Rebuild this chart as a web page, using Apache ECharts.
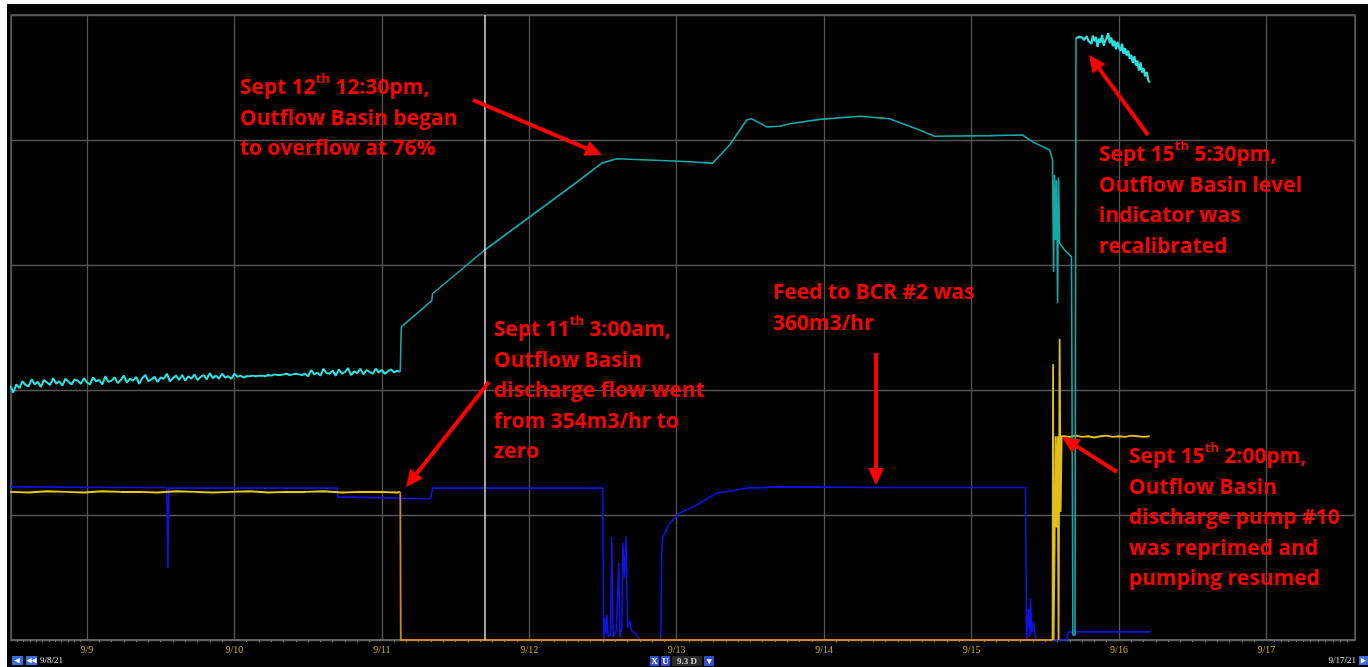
<!DOCTYPE html>
<html><head><meta charset="utf-8">
<script src="https://cdn.jsdelivr.net/npm/echarts@6/dist/echarts.min.js"></script>
<style>
html,body{margin:0;padding:0;background:#fff;width:1368px;height:667px;overflow:hidden}
#c{position:absolute;left:7px;top:4px;width:1361px;height:663px;background:#000}
</style></head><body><div id="c"></div>
<script>
// ---------- axis range ----------
const axisStart = '2021-09-08 11:38';
const axisEnd = '2021-09-17 14:25';
const cursorTime = '2021-09-11 16:45';

// ---------- Outflow Basin level (cyan) ----------
const levelNoisyStart = '2021-09-08 11:30';
const levelNoisyStepMin = 30;
const levelNoisy = [
 40.7, 39.6, 40.9, 40.3, 41.4, 40.8, 40.6, 41.7, 40.9, 41.3, 40.5, 41.6,
 41.2, 40.8, 41.9, 41.0, 41.4, 40.7, 41.8, 41.3, 40.9, 41.7, 41.5, 41.0,
 41.9, 41.2, 40.9, 42.0, 41.4, 41.6, 40.9, 42.2, 41.3, 41.5, 42.0, 41.1,
 41.6, 42.3, 41.2, 41.8, 41.5, 42.1, 41.0, 41.9, 42.4, 41.4, 41.7, 42.1,
 41.3, 42.0, 41.8, 42.6, 41.4, 41.9, 42.3, 41.6, 42.4, 41.5, 42.2, 41.8,
 42.5, 41.6, 42.1, 42.4, 41.7, 42.7, 41.9, 42.3, 41.8, 42.6, 42.0, 42.2,
 41.8, 42.6, 42.1, 42.3, 42.0, 42.2, 42.2, 42.3, 42.2, 42.3, 42.3, 42.2,
 42.4, 42.3, 42.5, 42.4, 42.4, 42.5, 42.6, 42.4, 42.5, 42.6, 42.5, 42.4,
 42.6, 42.2, 43.2, 42.5, 42.8, 42.3, 43.4, 42.7, 42.6, 43.1, 42.3, 43.3,
 42.6, 42.9, 43.5, 42.4, 43.0, 42.7, 43.4, 42.5, 43.2, 42.9, 42.6, 43.4,
 42.8, 43.2, 42.6, 43.0, 43.3, 42.8, 43.1, 42.9
];
const levelMain = [
 ['2021-09-11 03:00', 42.9],
 ['2021-09-11 03:10', 50.1], ['2021-09-11 08:08', 54.3], ['2021-09-11 08:15', 55.4],
 ['2021-09-11 16:45', 62.4], ['2021-09-12 03:49', 70.4], ['2021-09-12 08:13', 73.6],
 ['2021-09-12 11:48', 76.3], ['2021-09-12 14:14', 77.0], ['2021-09-13 00:29', 76.6],
 ['2021-09-13 05:51', 76.3], ['2021-09-13 08:37', 79.2], ['2021-09-13 11:24', 83.2],
 ['2021-09-13 12:12', 83.4], ['2021-09-13 14:39', 82.1], ['2021-09-13 16:45', 82.2],
 ['2021-09-13 18:23', 82.6], ['2021-09-13 23:16', 83.3], ['2021-09-14 05:47', 83.8],
 ['2021-09-14 10:39', 83.4], ['2021-09-14 15:32', 81.6], ['2021-09-14 17:58', 80.6],
 ['2021-09-15 02:56', 80.7], ['2021-09-15 08:18', 80.8], ['2021-09-15 09:56', 79.7],
 ['2021-09-15 12:44', 78.4], ['2021-09-15 13:11', 76.8], ['2021-09-15 13:21', 58.9],
 ['2021-09-15 13:31', 74.4], ['2021-09-15 13:40', 64.0], ['2021-09-15 13:50', 73.6],
 ['2021-09-15 14:00', 53.9], ['2021-09-15 14:10', 74.0], ['2021-09-15 14:20', 63.5],
 ['2021-09-15 15:08', 62.4], ['2021-09-15 16:16', 61.3], ['2021-09-15 16:30', 0.8],
 ['2021-09-15 16:50', 0.8], ['2021-09-15 17:00', 96.3]
];
const levelLateStart = '2021-09-15 17:00';
const levelLateStepMin = 15;
const levelLate = [
 96.3, 96.1, 96.5, 96.2, 96.4, 96.0, 96.3, 96.6, 95.9, 96.2, 95.4, 96.7,
 95.8, 96.5, 94.9, 96.2, 95.6, 96.8, 95.1, 95.9, 96.3, 97.1, 95.5, 96.4,
 95.0, 95.9, 94.5, 95.7, 94.9, 94.2, 95.4, 93.8, 94.7, 93.5, 94.3, 93.0,
 93.6, 92.3, 93.4, 91.9, 92.7, 91.1, 92.4, 90.8, 91.5, 90.2, 90.9, 89.6, 89.2
];

// ---------- Outflow Basin discharge flow (yellow) ----------
const flowEarlyStart = '2021-09-08 11:30';
const flowEarlyStepMin = 180;
const flowEarly = [23.7, 23.6, 23.8, 23.7, 23.6, 23.8, 23.7, 23.7, 23.6, 23.8, 23.7,
 23.6, 23.7, 23.8, 23.6, 23.7, 23.7, 23.8, 23.6, 23.7, 23.7, 23.6];
const flowStopped = [
 ['2021-09-11 03:00', 23.7], ['2021-09-11 03:05', 0], ['2021-09-15 13:11', 0]
];
const flowRestart = [
 ['2021-09-15 13:11', 0],
 ['2021-09-15 13:16', 44.1], ['2021-09-15 13:21', 0], ['2021-09-15 13:31', 15],
 ['2021-09-15 13:40', 32.6], ['2021-09-15 13:50', 18], ['2021-09-15 14:00', 32.6],
 ['2021-09-15 14:10', 0], ['2021-09-15 14:20', 48.2], ['2021-09-15 14:30', 20.5],
 ['2021-09-15 14:40', 32.6]
];
const flowLateStart = '2021-09-15 15:00';
const flowLateStepMin = 60;
const flowLate = [32.6, 32.5, 32.7, 32.5, 32.6, 32.4, 32.6, 32.7, 32.5, 32.6, 32.5, 32.7, 32.6, 32.5, 32.6];

// ---------- Feed to BCR #2 (blue) ----------
const feed = [
 ['2021-09-08 11:38', 24.5], ['2021-09-09 08:00', 24.4], ['2021-09-09 13:00', 24.4],
 ['2021-09-09 13:10', 11.5], ['2021-09-09 13:20', 24.3], ['2021-09-10 16:40', 24.3],
 ['2021-09-10 16:50', 22.9], ['2021-09-11 03:00', 22.7], ['2021-09-11 07:55', 22.6],
 ['2021-09-11 08:15', 24.3], ['2021-09-12 11:57', 24.3], ['2021-09-12 12:07', 0],
 ['2021-09-12 12:20', 3.5], ['2021-09-12 12:30', 1], ['2021-09-12 12:40', 4],
 ['2021-09-12 12:50', 0.5], ['2021-09-12 13:15', 1], ['2021-09-12 13:25', 16.5],
 ['2021-09-12 13:40', 0.5], ['2021-09-12 14:10', 1.5], ['2021-09-12 14:34', 12.3],
 ['2021-09-12 14:45', 0.5], ['2021-09-12 15:05', 2], ['2021-09-12 15:15', 15.5],
 ['2021-09-12 15:30', 10], ['2021-09-12 15:45', 16.6], ['2021-09-12 16:00', 2],
 ['2021-09-12 16:20', 3], ['2021-09-12 16:40', 1.5], ['2021-09-12 17:20', 1],
 ['2021-09-12 18:00', 0], ['2021-09-12 21:24', 0], ['2021-09-12 21:34', 14],
 ['2021-09-12 21:44', 16.5], ['2021-09-12 22:52', 18.7], ['2021-09-13 00:30', 20.3],
 ['2021-09-13 03:16', 21.6], ['2021-09-13 06:30', 23.5], ['2021-09-13 08:37', 23.8],
 ['2021-09-13 11:24', 24.3], ['2021-09-13 16:46', 24.5], ['2021-09-14 12:00', 24.4],
 ['2021-09-15 08:47', 24.4], ['2021-09-15 08:57', 0], ['2021-09-15 09:16', 5],
 ['2021-09-15 09:26', 0.5], ['2021-09-15 09:36', 6.7], ['2021-09-15 09:46', 1],
 ['2021-09-15 10:05', 3], ['2021-09-15 10:25', 0], ['2021-09-15 15:28', 0],
 ['2021-09-15 15:47', 1.3], ['2021-09-16 05:10', 1.3]
];

// ---------- helpers ----------
function ts(s){ return new Date(s.replace(' ', 'T')).getTime(); }
function stepped(start, stepMin, vals){ const t0 = ts(start); return vals.map((v,i)=>[t0 + i*stepMin*60000, v]); }
function pairs(arr){ return arr.map(p=>[ts(p[0]), p[1]]); }

const levelEarlyData = stepped(levelNoisyStart, levelNoisyStepMin, levelNoisy);
const levelMainData = pairs(levelMain);
const levelLateData = stepped(levelLateStart, levelLateStepMin, levelLate);
const flowEarlyData = stepped(flowEarlyStart, flowEarlyStepMin, flowEarly).concat(pairs(flowStopped.slice(0, 1)));
const flowStoppedData = pairs(flowStopped);
const flowLateData = pairs(flowRestart).concat(stepped(flowLateStart, flowLateStepMin, flowLate));
const feedData = pairs(feed);

const RED = '#ff0000';
const FONT = 'Open Sans';
const FS = 21;
const rich = {
  a: {fontSize: FS, fontWeight: 'bold', fontFamily: FONT, fill: RED, lineHeight: 30.5},
  s: {fontSize: 13, fontWeight: 'bold', fontFamily: FONT, fill: RED, lineHeight: 22, verticalAlign: 'top'}
};
function note(x, y, lines){
  return {type: 'text', x: x, y: y, z: 50,
    style: {text: lines.join('\n'), rich: rich, fill: RED, fontSize: FS, fontWeight: 'bold', fontFamily: FONT,
            lineHeight: 30.5, verticalAlign: 'top', align: 'left'}};
}
function arrow(x1, y1, x2, y2){
  const dx = x2-x1, dy = y2-y1, L = Math.hypot(dx, dy), ux = dx/L, uy = dy/L;
  const hl = 17, hw = 8;
  const bx = x2-ux*hl, by = y2-uy*hl;
  return [
    {type: 'line', z: 50, shape: {x1: x1, y1: y1, x2: bx, y2: by}, style: {stroke: RED, lineWidth: 4}},
    {type: 'polygon', z: 50, shape: {points: [[x2, y2], [bx-uy*hw, by+ux*hw], [bx+uy*hw, by-ux*hw]]}, style: {fill: RED}}
  ];
}
function btn(x, y, w, h, fill, txt, tcol){
  const g = [{type: 'rect', z: 50, shape: {x: x, y: y, width: w, height: h}, style: {fill: fill}}];
  if (txt) g.push({type: 'text', z: 51, x: x + w/2, y: y + h/2 + 0.5,
     style: {text: txt, fill: tcol || '#fff', fontSize: 9, fontWeight: 'bold', fontFamily: 'Liberation Sans Narrow', align: 'center', verticalAlign: 'middle'}});
  return g;
}

let graphics = [];
graphics.push(note(233, 69, ['{a|Sept 12}{s|th}{a| 12:30pm,}', '{a|Outflow Basin began}', '{a|to overflow at 76%}']));
graphics.push(note(487, 311, ['{a|Sept 11}{s|th}{a| 3:00am,}', '{a|Outflow Basin}', '{a|discharge flow went}', '{a|from 354m3/hr to}', '{a|zero}']));
graphics.push(note(766, 274, ['{a|Feed to BCR #2 was}', '{a|360m3/hr}']));
graphics.push(note(1092, 136, ['{a|Sept 15}{s|th}{a| 5:30pm,}', '{a|Outflow Basin level}', '{a|indicator was}', '{a|recalibrated}']));
graphics.push(note(1122, 438, ['{a|Sept 15}{s|th}{a| 2:00pm,}', '{a|Outflow Basin}', '{a|discharge pump #10}', '{a|was reprimed and}', '{a|pumping resumed}']));
graphics = graphics.concat(arrow(466, 96, 595, 151));
graphics = graphics.concat(arrow(482, 378, 399, 483));
graphics = graphics.concat(arrow(869, 349, 869, 481));
graphics = graphics.concat(arrow(1141, 131, 1082, 51));
graphics = graphics.concat(arrow(1110, 468, 1055, 433));
// bottom toolbar widgets
graphics = graphics.concat(btn(5, 652, 11, 9, '#3a6ee0', '◂'));
graphics = graphics.concat(btn(19, 652, 11, 9, '#3a6ee0', '◂◂'));
graphics.push({type: 'text', z: 51, x: 33, y: 657, style: {text: '9/8/21', fill: '#e0e0e0', fontSize: 9, fontFamily: 'Liberation Sans Narrow', verticalAlign: 'middle'}});
graphics = graphics.concat(btn(643, 652, 9, 10, '#3050d0', 'X'));
graphics = graphics.concat(btn(654, 652, 9, 10, '#3050d0', 'U'));
graphics = graphics.concat(btn(665, 652, 30, 10, '#2a2a2a', '9.3 D', '#cfcfcf'));
graphics = graphics.concat(btn(697, 652, 10, 10, '#3050d0', '▾'));
graphics.push({type: 'text', z: 51, x: 1349, y: 657, style: {text: '9/17/21', fill: '#e0e0e0', fontSize: 9, fontFamily: 'Liberation Sans Narrow', align: 'right', verticalAlign: 'middle'}});
graphics = graphics.concat(btn(1352, 652, 9, 9, '#3a6ee0', '▸'));

function lineSeries(name, data, color, width){
  return {name: name, type: 'line', data: data, showSymbol: false, symbol: 'none',
          lineStyle: {color: color, width: width}, itemStyle: {color: color}};
}
const feedSeries = lineSeries('Feed to BCR #2', feedData, '#1212e0', 1.6);
feedSeries.markLine = {silent: true, symbol: ['none', 'none'], label: {show: false},
  lineStyle: {color: '#d8d8d8', width: 1.5, type: 'solid'}, data: [{xAxis: ts(cursorTime)}]};

const chart = echarts.init(document.getElementById('c'), null, {renderer: 'canvas'});
chart.setOption({
  backgroundColor: '#000',
  animation: false,
  grid: {left: 4, right: 13, top: 11, bottom: 27, show: true, borderColor: '#5a5a5a', borderWidth: 1.5},
  xAxis: {
    type: 'time', min: ts(axisStart), max: ts(axisEnd),
    minInterval: 86400000, maxInterval: 86400000,
    axisLine: {show: true, lineStyle: {color: '#6a6a6a', width: 1.5}},
    axisTick: {show: false},
    minorTick: {show: true, splitNumber: 12, length: 2, lineStyle: {color: '#777'}},
    axisLabel: {color: '#c8b400', fontSize: 10, fontFamily: 'Liberation Sans Narrow', margin: 5,
      showMinLabel: false, showMaxLabel: false,
      formatter: function(v){ const d = new Date(v); return (d.getMonth()+1) + '/' + d.getDate(); }},
    splitLine: {show: true, lineStyle: {color: '#555', width: 1.3}}
  },
  yAxis: {
    type: 'value', min: 0, max: 100, interval: 20,
    axisLabel: {show: false}, axisLine: {show: false}, axisTick: {show: false},
    splitLine: {show: true, lineStyle: {color: '#555', width: 1.3}}
  },
  series: [
    feedSeries,
    lineSeries('Discharge flow', flowEarlyData, '#e6cc10', 2),
    lineSeries('Discharge flow (stopped)', flowStoppedData, '#c98a22', 1.8),
    lineSeries('Discharge flow (resumed)', flowLateData, '#e0bf18', 1.8),
    lineSeries('Basin level', levelEarlyData, '#2ee0e0', 2),
    lineSeries('Basin level (main)', levelMainData, '#14a8a8', 1.6),
    lineSeries('Basin level (recalibrated)', levelLateData, '#2ee0e0', 2.2)
  ],
  graphic: graphics
});
</script></body></html>
